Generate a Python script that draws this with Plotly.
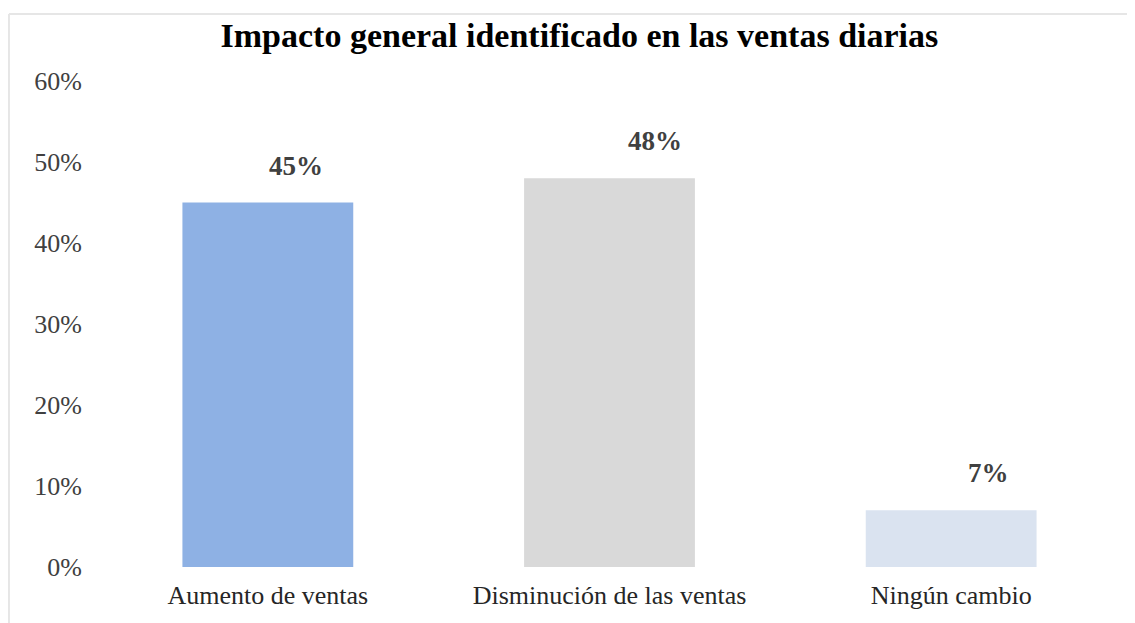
import plotly.graph_objects as go

# Datos del gráfico
categorias = ["Aumento de ventas", "Disminución de las ventas", "Ningún cambio"]
porcentajes = [45, 48, 7]
etiquetas = ["45%", "48%", "7%"]
colores = ["#8EB1E4", "#D9D9D9", "#DAE3F0"]
ticks_y = [0, 10, 20, 30, 40, 50, 60]
ticks_y_texto = ["0%", "10%", "20%", "30%", "40%", "50%", "60%"]

fig = go.Figure()
fig.add_trace(go.Bar(x=categorias, y=porcentajes, marker=dict(color=colores, line=dict(width=0)),
                     hoverinfo="skip"))

# Etiquetas de datos (ligeramente desplazadas a la derecha, como en el original)
desplaz_x = [28, 45, 37]
for cat, val, txt, dx in zip(categorias, porcentajes, etiquetas, desplaz_x):
    fig.add_annotation(x=cat, y=val, text="<b>" + txt + "</b>", showarrow=False,
                       xshift=dx, yshift=20, yanchor="bottom",
                       font=dict(family="Liberation Serif", size=27, color="#404040"))

# la página añade 8 px de margen, por eso el lienzo es algo más pequeño
fig.update_layout(
    width=1127, height=615,
    margin=dict(l=89, r=13, t=73, b=56),
    paper_bgcolor="white", plot_bgcolor="white",
    bargap=0.5, showlegend=False,
    title=dict(text="<b>Impacto general identificado en las ventas diarias</b>",
               x=0.507, xanchor="center", y=0.956, yanchor="middle",
               font=dict(family="Liberation Serif", size=34, color="black")),
    font=dict(family="Liberation Serif", color="#404040"),
)
fig.update_yaxes(range=[0, 60], tickvals=ticks_y, ticktext=ticks_y_texto, showgrid=False,
                 zeroline=False, showline=False, ticks="", ticklabelstandoff=14,
                 tickfont=dict(size=26, color="#404040"))
fig.update_xaxes(showgrid=False, showline=False, ticks="", ticklabelstandoff=10,
                 tickfont=dict(size=26, color="#262626"))

# Marco gris claro arriba y a la izquierda
fig.add_shape(type="line", xref="paper", yref="paper", x0=-0.0859, x1=1.02, y0=1.138, y1=1.138,
              line=dict(color="#E6E6E6", width=2))
fig.add_shape(type="line", xref="paper", yref="paper", x0=-0.0859, x1=-0.0859, y0=1.138, y1=-0.12,
              line=dict(color="#E6E6E6", width=2))

fig.write_html("out.html")
